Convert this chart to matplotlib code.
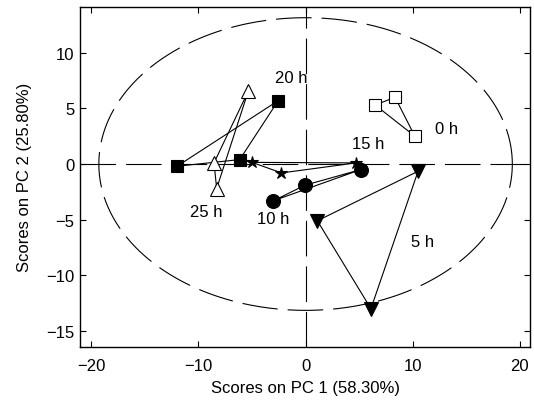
import numpy as np
import matplotlib.pyplot as plt

plt.rcParams["font.family"] = ["Liberation Sans", "DejaVu Sans"]

# PCA scores per sampling time (three replicates each)
times = ["0 h", "5 h", "10 h", "15 h", "20 h", "25 h"]
pc1 = [
    [6.5, 8.35, 10.2],
    [10.5, 1.1, 6.1],
    [-3.0, -0.05, 5.15],
    [-5.0, -2.25, 4.7],
    [-2.55, -12.0, -6.15],
    [-5.35, -8.55, -8.3],
]
pc2 = [
    [5.3, 6.0, 2.5],
    [-0.65, -5.1, -13.0],
    [-3.3, -1.9, -0.5],
    [0.15, -0.8, 0.1],
    [5.7, -0.2, 0.4],
    [6.55, 0.1, -2.2],
]
markers = ["s", "v", "o", "*", "s", "^"]
filled = [False, True, True, True, True, False]
marker_sizes = [9, 10, 10, 9, 9, 10]

label_x = [13.2, 10.9, -3.0, 5.8, -1.3, -9.25]
label_y = [3.2, -6.95, -4.85, 1.8, 7.8, -4.25]

# 95% confidence limit ellipse semi-axes
ell_a, ell_b = 19.3, 13.15

fig = plt.figure(figsize=(5.34, 4.06), dpi=100)
ax = fig.add_axes([0.150, 0.144, 0.8425, 0.836])

dash = (0, (32, 9))
ax.axhline(0, color="k", lw=0.8, linestyle=dash)
ax.axvline(0, color="k", lw=0.8, linestyle=dash)
t = np.linspace(0, 2 * np.pi, 400)
ax.plot(ell_a * np.cos(t), ell_b * np.sin(t), color="k", lw=0.8, linestyle=dash)

for x, y, m, f, ms in zip(pc1, pc2, markers, filled, marker_sizes):
    xs = x + [x[0]]
    ys = y + [y[0]]
    ax.plot(xs, ys, color="k", lw=0.8, zorder=3)
    ax.plot(x, y, linestyle="none", marker=m, ms=ms,
            markerfacecolor="k" if f else "white",
            markeredgecolor="k", markeredgewidth=0.8, zorder=4)

for name, lx, ly in zip(times, label_x, label_y):
    ax.text(lx, ly, name, fontsize=12, ha="center", va="center")

ax.set_xlim(-21.05, 20.95)
ax.set_ylim(-16.4, 14.1)
ax.set_xticks([-20, -10, 0, 10, 20])
ax.set_yticks([-15, -10, -5, 0, 5, 10])
ax.tick_params(direction="in", length=4, width=0.8, top=True, right=True,
               labelsize=12)
ax.tick_params(axis="x", pad=8)
ax.tick_params(axis="y", pad=4)
for s in ax.spines.values():
    s.set_linewidth(1.0)

ax.set_xlabel("Scores on PC 1 (58.30%)", fontsize=12, labelpad=5)
ax.set_ylabel("Scores on PC 2 (25.80%)", fontsize=12, labelpad=10)

fig.savefig("out.png", dpi=100)
